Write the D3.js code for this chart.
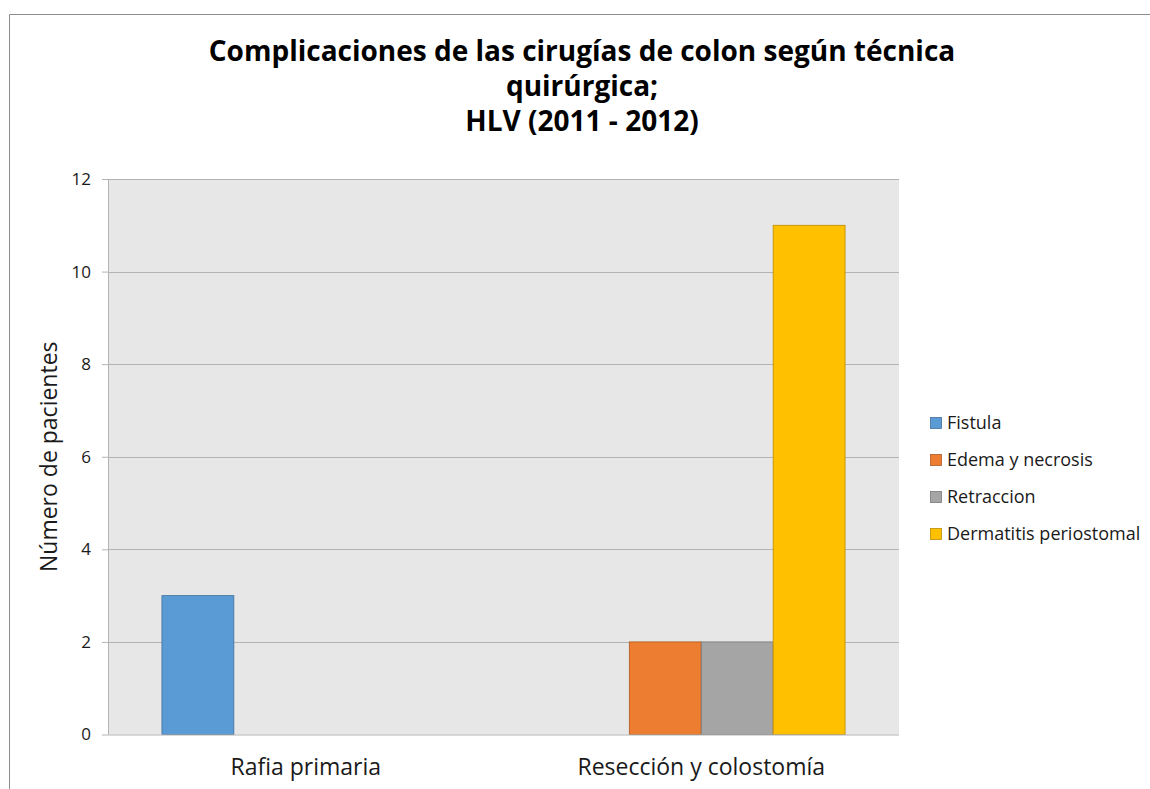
<!DOCTYPE html>
<html>
<head>
<meta charset="utf-8">
<script src="https://cdn.jsdelivr.net/npm/d3@7"></script>
<style>
	body { margin: 0; background: #fff; }
	text { font-family: "Open Sans", Lato, sans-serif; }
</style>
</head>
<body>
<svg id="chart"></svg>
<script>
// data
var categories = ["Rafia primaria", "Resección y colostomía"];
var seriesNames = ["Fistula", "Edema y necrosis", "Retraccion", "Dermatitis periostomal"];
var fistula = [3, 0];
var edema = [0, 2];
var retraccion = [0, 2];
var dermatitis = [0, 11];
var yTicks = [0, 2, 4, 6, 8, 10, 12];
var titleLines = ["Complicaciones de las cirugías de colon según técnica", "quirúrgica;", "HLV (2011 - 2012)"];

var seriesValues = [fistula, edema, retraccion, dermatitis];
var colors = ["#5B9BD5", "#ED7D31", "#A5A5A5", "#FFC000"];
var strokes = ["#41719C", "#AE5A21", "#787878", "#BC8C00"];

var width = 1150, height = 789;
var margin = { top: 179, left: 108, right: 251, bottom: 54.5 };
var fontFam = "'Open Sans', Lato, sans-serif";

var svg = d3.select("#chart").attr("width", width).attr("height", height);

// outer chart frame (top + left edges visible)
svg.append("path")
	.attr("d", "M9.5,789 V14.5 H1150")
	.attr("fill", "none")
	.attr("stroke", "#8c8c8c")
	.attr("stroke-width", 1);

var plotW = width - margin.left - margin.right;
var plotH = height - margin.top - margin.bottom;

var g = svg.append("g").attr("transform", "translate(" + margin.left + "," + margin.top + ")");

g.append("rect")
	.attr("width", plotW)
	.attr("height", plotH)
	.attr("fill", "#e7e7e7");

var y = d3.scaleLinear().domain([0, 12]).range([plotH, 0]);
var x0 = d3.scaleBand().domain(categories).range([0, plotW]).padding(0);
var x1 = d3.scaleBand().domain(seriesNames).range([0, x0.bandwidth()]).paddingInner(0).paddingOuter(0.75);

// gridlines
g.selectAll("line.grid")
	.data(yTicks.filter(d => d > 0))
	.enter()
	.append("line")
	.attr("class", "grid")
	.attr("x1", 0)
	.attr("x2", plotW)
	.attr("y1", d => Math.round(y(d)) + 0.5)
	.attr("y2", d => Math.round(y(d)) + 0.5)
	.attr("stroke", "#b3b3b3")
	.attr("stroke-width", 1);

// bars
var rows = [];
categories.forEach(function (c, i) {
	seriesNames.forEach(function (s, j) {
		rows.push({ cat: c, series: s, idx: j, value: seriesValues[j][i] });
	});
});

g.selectAll("rect.bar")
	.data(rows.filter(d => d.value > 0))
	.enter()
	.append("rect")
	.attr("class", "bar")
	.attr("x", d => x0(d.cat) + x1(d.series))
	.attr("y", d => y(d.value))
	.attr("width", x1.bandwidth())
	.attr("height", d => y(0) - y(d.value))
	.attr("fill", d => colors[d.idx])
	.attr("stroke", d => strokes[d.idx])
	.attr("stroke-width", 0.8);

// y axis
var yAxis = g.append("g")
	.call(d3.axisLeft(y).tickValues(yTicks).tickSize(6).tickPadding(11).tickFormat(d3.format("d")));
yAxis.select(".domain").remove();
yAxis.selectAll(".tick line").attr("stroke", "#b3b3b3");
yAxis.selectAll(".tick text").attr("font-size", "17px").attr("fill", "#1a1a1a")
	.style("font-family", fontFam);

g.append("line")
	.attr("x1", 0.5).attr("x2", 0.5)
	.attr("y1", 0).attr("y2", plotH)
	.attr("stroke", "#b3b3b3");
g.append("line")
	.attr("x1", 0).attr("x2", plotW)
	.attr("y1", plotH + 0.5).attr("y2", plotH + 0.5)
	.attr("stroke", "#b3b3b3");

// x axis labels
var xAxis = g.append("g")
	.attr("transform", "translate(0," + plotH + ")")
	.call(d3.axisBottom(x0).tickSize(0).tickPadding(24));
xAxis.select(".domain").remove();
xAxis.selectAll(".tick text").attr("font-size", "23px").attr("fill", "#1a1a1a")
	.style("font-family", fontFam);

// y axis title
svg.append("text")
	.attr("transform", "translate(57," + (margin.top + plotH / 2) + ") rotate(-90)")
	.attr("text-anchor", "middle")
	.attr("font-size", "23px")
	.attr("fill", "#1a1a1a")
	.text("Número de pacientes");

// title
svg.selectAll("text.title")
	.data(titleLines)
	.enter()
	.append("text")
	.attr("class", "title")
	.attr("x", 582)
	.attr("y", (d, i) => 61 + i * 35)
	.attr("text-anchor", "middle")
	.attr("font-size", "28px")
	.attr("font-weight", "bold")
	.attr("fill", "#000")
	.text(d => d);

// legend
var legend = svg.append("g").attr("transform", "translate(930,423)");
var item = legend.selectAll("g.item")
	.data(seriesNames)
	.enter()
	.append("g")
	.attr("class", "item")
	.attr("transform", (d, i) => "translate(0," + i * 37 + ")");
item.append("rect")
	.attr("x", 0.5)
	.attr("y", -5.5)
	.attr("width", 11)
	.attr("height", 11)
	.attr("fill", (d, i) => colors[i])
	.attr("stroke", (d, i) => strokes[i])
	.attr("stroke-width", 0.8);
item.append("text")
	.attr("x", 17)
	.attr("y", 6)
	.attr("font-size", "18px")
	.attr("fill", "#1a1a1a")
	.text(d => d);
</script>
</body>
</html>
